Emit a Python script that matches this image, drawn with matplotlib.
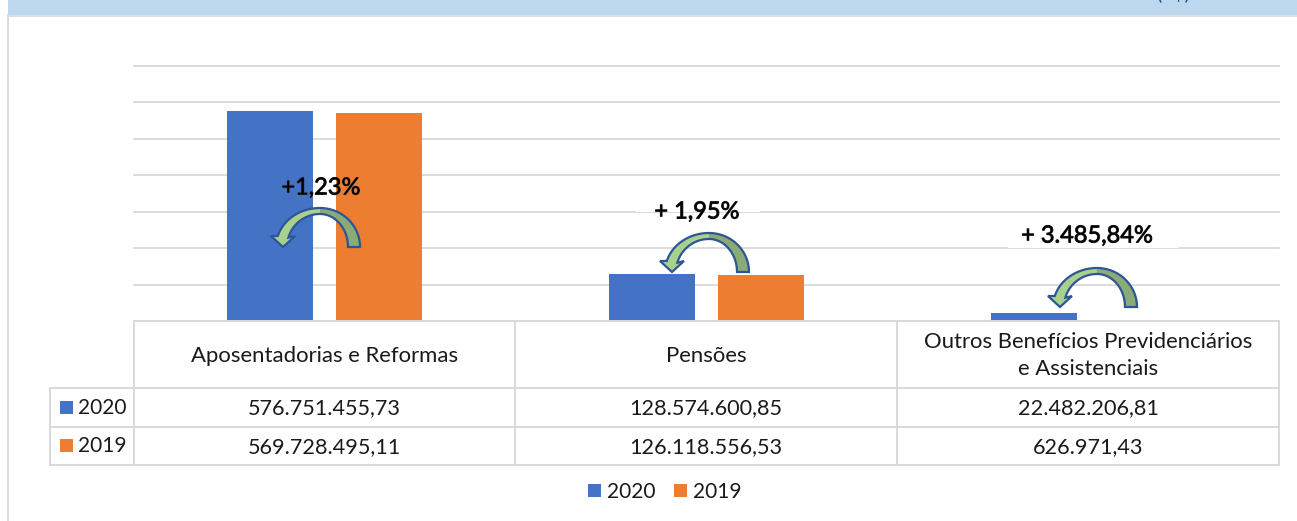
import matplotlib
matplotlib.use("Agg")
import matplotlib.pyplot as plt
import matplotlib.patheffects as pe
from matplotlib.patches import Polygon, Rectangle
import numpy as np

plt.rcParams['font.family'] = ['Lato', 'DejaVu Sans']

# dados
categorias = ["Aposentadorias e Reformas", "Pensões",
              "Outros Benefícios Previdenciários\ne Assistenciais"]
anos = ["2020", "2019"]
valores_2020 = [576751455.73, 128574600.85, 22482206.81]
valores_2019 = [569728495.11, 126118556.53, 626971.43]
variacao = ["+1,23%", "+ 1,95%", "+ 3.485,84%"]

AZUL = "#4472c4"
LARANJA = "#ed7d31"
CINZA = "#d9d9d9"
TEXTO = "#1a1a1a"


def moeda(v):
    return f"{v:,.2f}".replace(",", "#").replace(".", ",").replace("#", ".")


W, H = 1297, 521
fig = plt.figure(figsize=(W / 100, H / 100), dpi=100)

# grafico de barras
x0, x1, y_base, y_topo = 134, 1279, 321, 66
ax = fig.add_axes([x0 / W, (H - y_base) / H, (x1 - x0) / W, (y_base - y_topo) / H])
pos = np.arange(len(categorias)) + 0.5
ax.bar(pos - 0.143, valores_2020, 0.225, color=AZUL, zorder=3)
ax.bar(pos + 0.143, valores_2019, 0.225, color=LARANJA, zorder=3)
ax.set_xlim(0, 3)
ax.set_ylim(0, 700e6)
ax.set_yticks(np.arange(100e6, 800e6, 100e6))
ax.grid(axis="y", color=CINZA, lw=1.3, zorder=0, clip_on=False)
ax.set_xticks([])
ax.tick_params(left=False, labelleft=False)
ax.patch.set_alpha(0)
for s in ax.spines.values():
    s.set_visible(False)

# camada em pixels para moldura, tabela e setas
ov = fig.add_axes([0, 0, 1, 1])
ov.set_xlim(0, W)
ov.set_ylim(H, 0)
ov.axis("off")
ov.patch.set_alpha(0)

ov.add_patch(Rectangle((8, 0), W - 8, 15, color="#bdd7ee", lw=0))
ov.plot([8, W], [15.5, 15.5], color=CINZA, lw=1.2)
ov.plot([8, 8], [15, H], color=CINZA, lw=1.4)
ov.text(1173, -1, "(R$)", color="#1f4e79", fontsize=14, ha="center", va="baseline")

# tabela
colunas = [134, 515, 897, 1279]
linhas = [321, 388, 427, 465]
ov.plot([134, 1279], [321, 321], color=CINZA, lw=1.4)
for y in linhas[1:]:
    ov.plot([50, 1279], [y, y], color=CINZA, lw=1.4)
for x in colunas:
    ov.plot([x, x], [321, 465], color=CINZA, lw=1.4)
ov.plot([50, 50], [388, 465], color=CINZA, lw=1.4)

for i, cat in enumerate(categorias):
    cx = (colunas[i] + colunas[i + 1]) / 2
    ov.text(cx, 355.5, cat, ha="center", va="center", fontsize=15.9, color=TEXTO, linespacing=1.42)
    ov.text(cx, 408.5, moeda(valores_2020[i]), ha="center", va="center", fontsize=15.6, color=TEXTO)
    ov.text(cx, 447, moeda(valores_2019[i]), ha="center", va="center", fontsize=15.6, color=TEXTO)

for ano, cor, y in zip(anos, [AZUL, LARANJA], [407, 445]):
    ov.add_patch(Rectangle((60, y - 6.5), 13, 13, color=cor, lw=0))
    ov.text(78, y + 1, ano, ha="left", va="center", fontsize=15, color=TEXTO)

# legenda
for ano, cor, xq in zip(anos, [AZUL, LARANJA], [588, 674]):
    ov.add_patch(Rectangle((xq, 484), 13, 13, color=cor, lw=0))
    ov.text(xq + 19, 492, ano, ha="left", va="center", fontsize=15, color=TEXTO)


# seta curva em U
def seta(xr, yb):
    xc = xr - 40
    t = np.linspace(0, np.pi / 2, 30)
    ext_d = np.c_[xc + 40 * np.cos(t), yb - 39 * np.sin(t)]
    int_d = np.c_[xc + 28 * np.cos(t), yb - 33 * np.sin(t)]
    tf = np.pi - np.arcsin(11 / 39)
    t2 = np.linspace(np.pi / 2, tf, 30)
    ext_e = np.c_[xc + 44 * np.cos(t2), yb - 39 * np.sin(t2)]
    int_e = np.c_[xc + 33 * np.cos(t2), yb - 33 * np.sin(t2)]
    cabeca = [[xr - 89, yb - 11], [xr - 77, yb], [xr - 65, yb - 11]]
    direita = np.r_[ext_d, int_d[::-1]]
    esquerda = np.r_[ext_e, cabeca, int_e[::-1]]
    ov.add_patch(Polygon(direita, fc="#8aab75", lw=0, zorder=5))
    ov.add_patch(Polygon(esquerda, fc="#a9d18e", lw=0, zorder=5))
    contorno = np.r_[ext_d, ext_e, cabeca, int_e[::-1], int_d[::-1]]
    ov.add_patch(Polygon(contorno, fc="none", ec="#2f5597", lw=1.6, zorder=6))


# caixas brancas dos rotulos
for caixa in [(313, 158, 23, 62), (636, 200, 124, 11.6), (1008, 220, 171, 27.6)]:
    ov.add_patch(Rectangle(caixa[:2], caixa[2], caixa[3], color="white", lw=0, zorder=4))

for (xr, yb), txt, (xt, yt) in zip([(360, 247), (749, 272), (1137, 307)], variacao,
                                   [(321, 188), (697, 212), (1087, 236)]):
    seta(xr, yb)
    ov.text(xt, yt, txt, ha="center", va="center", fontsize=17, color="black", zorder=7,
            path_effects=[pe.withStroke(linewidth=0.7, foreground="#333333")])

fig.savefig("out.png", dpi=100)
